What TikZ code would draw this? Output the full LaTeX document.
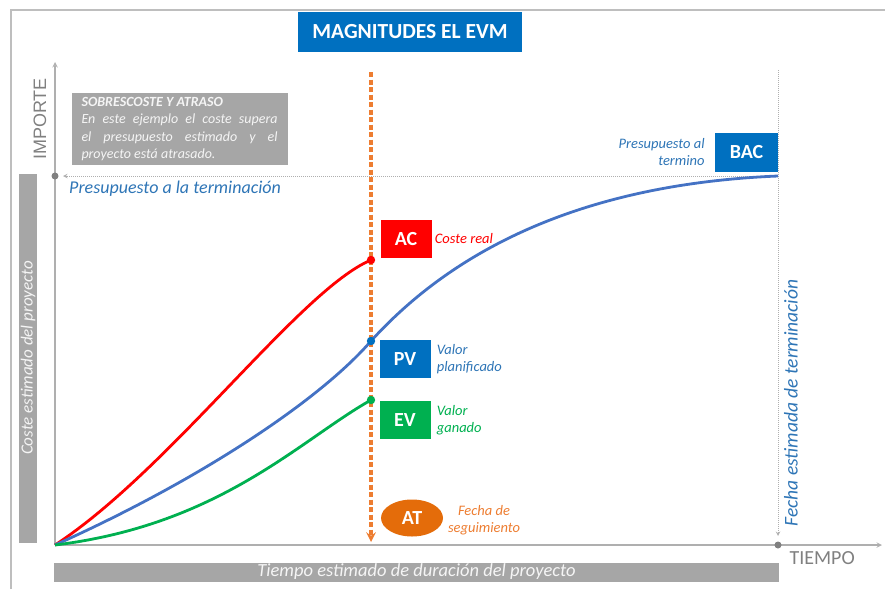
\documentclass[tikz,border=0pt]{standalone}
\usepackage{fontspec}
\setmainfont{Carlito}
\newfontfamily\axisfont{Liberation Sans}
\usepackage{xcolor}
\usetikzlibrary{positioning,shapes.geometric,arrows}
\tikzset{>=stealth}
\definecolor{evmblue}{RGB}{0,112,192}
\definecolor{curveblue}{RGB}{68,114,196}
\definecolor{labelblue}{RGB}{46,117,182}
\definecolor{evred}{RGB}{255,0,0}
\definecolor{evgreen}{RGB}{0,176,80}
\definecolor{evorange}{RGB}{237,125,49}
\definecolor{atorange}{RGB}{228,108,10}
\definecolor{boxgray}{RGB}{166,166,166}
\definecolor{axisgray}{RGB}{175,175,175}
\definecolor{framegray}{RGB}{190,190,190}
\definecolor{textgray}{RGB}{128,128,128}
\tikzset{
  magbox/.style={rectangle, text=white, font=\fontsize{20}{20}\selectfont\bfseries, minimum width=51, minimum height=38, inner sep=0pt},
  lbl/.style={font=\fontsize{14.5}{17}\selectfont\itshape, inner sep=1pt},
  graybar/.style={rectangle, fill=boxgray, text=white!92!gray, font=\fontsize{17}{17}\selectfont\itshape, inner sep=0pt},
  curve/.style={line width=2.8pt},
  guide/.style={axisgray, densely dotted, line width=1pt}
}

\begin{document}
\begin{tikzpicture}[x=1pt,y=-1pt]
\useasboundingbox (0,0) rectangle (885,589);
\draw[framegray, line width=1.5pt] (11,589) -- (11,10) -- (885,10);

\coordinate (O) at (55,545);
\coordinate (ytop) at (55,62);
\coordinate (xend) at (882,545);
\coordinate (bac) at (778,176);
\coordinate (bud) at (55,176);
\coordinate (budtip) at (63,176);
\coordinate (endtop) at (778,70);
\coordinate (endtip) at (778,536);
\coordinate (tend) at (778,545);
\coordinate (attop) at (371,72);
\coordinate (atend) at (371,542);
\coordinate (ac) at (371,260);
\coordinate (pv) at (371,341);
\coordinate (ev) at (371,400);

\node[rectangle, fill=evmblue, text=white, minimum width=224, minimum height=40, font=\fontsize{21.5}{21.5}\selectfont\bfseries] (title) at (410,32) {MAGNITUDES EL EVM};

\draw[axisgray, line width=1.4pt, ->] (O) -- (ytop);
\draw[axisgray, line width=1.4pt, ->] (O) -- (xend);
\draw[guide, ->] (bac) -- (budtip);
\draw[guide, ->] (endtop) -- (endtip);
\fill[textgray] (bud) circle (3.5);
\fill[textgray] (tend) circle (3.5);

\draw[evorange, line width=3.2pt, dash pattern=on 5pt off 2.5pt, ->] (attop) -- (atend);

\draw[curve, evred] (O) .. controls (170,470) and (300,290) .. (ac);
\draw[curve, curveblue] (O) .. controls (200,480) and (320,400) .. (pv) .. controls (440,265) and (560,185) .. (bac);
\draw[curve, evgreen] (O) .. controls (220,525) and (300,440) .. (ev);
\fill[evred] (ac) circle (4.2);
\fill[evmblue] (pv) circle (4.2);
\fill[evgreen] (ev) circle (4.2);

\node[rotate=90, text=textgray, font=\fontsize{18}{18}\selectfont\axisfont] (importe) at (40,119) {IMPORTE};
\node[text=textgray, font=\fontsize{20}{20}\selectfont, anchor=west] (tiempo) at (786,558) {TIEMPO};

\node[graybar, rotate=90, minimum width=369, minimum height=18] (coste) at (28,358) {Coste estimado del proyecto};
\node[graybar, minimum width=725, minimum height=19, font=\fontsize{18.5}{18.5}\selectfont\itshape] (dur) at (416.5,572) {Tiempo estimado de duración del proyecto};

\node[rectangle, fill=boxgray, text=white!92!gray, text width=196, inner xsep=10, minimum height=72, align=justify, font=\fontsize{14}{17.5}\selectfont\itshape] (nota) at (179.5,129)
  {{\fontsize{14}{15}\selectfont\bfseries SOBRESCOSTE Y ATRASO}\\ En este ejemplo el coste supera\linebreak el presupuesto estimado y el\linebreak proyecto está atrasado.};

\node[lbl, text=labelblue, font=\fontsize{18}{18}\selectfont\itshape, anchor=west] (budlbl) at (68,189) {Presupuesto a la terminación};
\node[lbl, text=labelblue, font=\fontsize{19.5}{19.5}\selectfont\itshape, rotate=90] (endlbl) at (791,403) {Fecha estimada de terminación};

\node[magbox, fill=evred] (acbox) at (406,239) {AC};
\node[lbl, text=evred, right=2pt of acbox] (aclbl) {Coste real};
\node[magbox, fill=evmblue] (pvbox) at (405,359) {PV};
\node[lbl, text=labelblue, align=left, right=5pt of pvbox] (pvlbl) {Valor\\planificado};
\node[magbox, fill=evgreen] (evbox) at (405,420) {EV};
\node[lbl, text=evgreen, align=left, right=5pt of evbox] (evlbl) {Valor\\ganado};
\node[magbox, fill=evmblue, minimum width=63, minimum height=39] (bacbox) at (746.5,152.5) {BAC};
\node[lbl, text=labelblue, align=right, left=9pt of bacbox] (baclbl) {Presupuesto al\\termino};
\node[ellipse, fill=atorange, text=white, minimum width=62, minimum height=37, inner sep=0pt, font=\fontsize{20}{20}\selectfont\bfseries] (atell) at (412,518) {AT};
\node[lbl, text=evorange, align=center] (atlbl) at (484,520) {Fecha de\\seguimiento};
\end{tikzpicture}
\end{document}
